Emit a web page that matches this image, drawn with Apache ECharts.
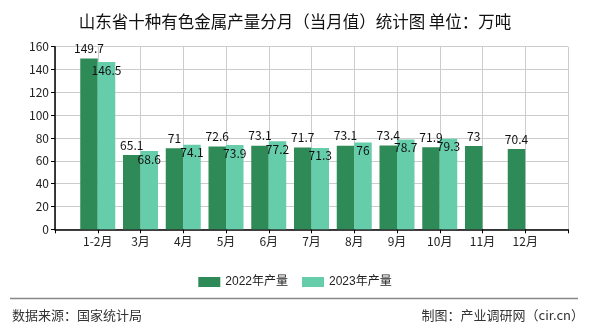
<!DOCTYPE html>
<html>
<head>
<meta charset="utf-8">
<script src="https://cdn.jsdelivr.net/npm/echarts@6/dist/echarts.min.js"></script>
<style>
html,body{margin:0;padding:0;background:#fff;}
#main{width:590px;height:330px;}
</style>
</head>
<body>
<div id="main"></div>
<script>
const titleText = '山东省十种有色金属产量分月（当月值）统计图 单位：万吨';
const months = ['1-2月','3月','4月','5月','6月','7月','8月','9月','10月','11月','12月'];
const series2022 = [149.7, 65.1, 71, 72.6, 73.1, 71.7, 73.1, 73.4, 71.9, 73, 70.4];
const series2023 = [146.5, 68.6, 74.1, 73.9, 77.2, 71.3, 76, 78.7, 79.3];
const seriesNames = ['2022年产量', '2023年产量'];
const yTicks = {min: 0, max: 160, interval: 20};
const sourceText = '数据来源：国家统计局';
const makerText = '制图：产业调研网（cir.cn）';

const FONT = "SimSun, 'Noto Sans CJK SC', sans-serif";
const cats = [''].concat(months, ['']);
function pad(arr){
  const out = [null];
  for (let i = 0; i < months.length; i++) out.push(i < arr.length ? arr[i] : null);
  out.push(null);
  return out;
}

const chart = echarts.init(document.getElementById('main'), null, {renderer: 'canvas'});
chart.setOption({
  animation: false,
  backgroundColor: '#fff',
  textStyle: {fontFamily: FONT},
  title: {
    text: titleText, left: 'center', top: 8,
    textStyle: {fontSize: 16.5, fontWeight: 'normal', color: '#111', fontFamily: FONT}
  },
  legend: {
    data: seriesNames, left: 'center', top: 271,
    icon: 'rect', itemWidth: 22, itemHeight: 10, itemGap: 14,
    textStyle: {fontSize: 12, color: '#222', fontFamily: "Arial, 'Liberation Sans', 'Noto Sans CJK SC', sans-serif"}
  },
  grid: {left: 55, right: 22, top: 46.7, bottom: 100.7, containLabel: false},
  xAxis: {
    type: 'category', data: cats, boundaryGap: false,
    axisLine: {lineStyle: {color: '#000', width: 1.5}},
    axisTick: {show: true, length: 4, lineStyle: {color: '#000'}, interval: 0},
    axisLabel: {interval: 0, fontSize: 12, color: '#222', margin: 6, fontFamily: FONT},
    splitLine: {show: true, interval: 0, lineStyle: {color: '#cccccc'}}
  },
  yAxis: {
    type: 'value', min: yTicks.min, max: yTicks.max, interval: yTicks.interval,
    axisLine: {show: true, lineStyle: {color: '#000', width: 1.5}},
    axisTick: {show: true, length: 4, lineStyle: {color: '#000'}},
    axisLabel: {fontSize: 12, color: '#222', margin: 6, fontFamily: FONT},
    splitLine: {show: true, lineStyle: {color: '#cccccc'}}
  },
  series: [
    {
      name: seriesNames[0], type: 'bar', data: pad(series2022),
      barWidth: 17.5, barGap: '0%',
      itemStyle: {color: '#2E8B57'},
      label: {show: true, position: 'top', distance: 4, fontSize: 12, color: '#111', fontFamily: FONT}
    },
    {
      name: seriesNames[1], type: 'bar', data: pad(series2023),
      barWidth: 17.5, barGap: '0%',
      itemStyle: {color: '#66CDAA'},
      label: {show: true, position: 'insideTop', distance: 2, fontSize: 12, color: '#111', fontFamily: FONT}
    }
  ],
  graphic: [
    {type: 'line', shape: {x1: 10, y1: 298.5, x2: 578, y2: 298.5}, style: {stroke: '#888', lineWidth: 1.5}},
    {type: 'text', left: 12, top: 309, style: {text: sourceText, fontSize: 13, fill: '#333', fontFamily: FONT}},
    {type: 'text', right: 6, top: 309, style: {text: makerText, fontSize: 13, fill: '#333', fontFamily: FONT}}
  ]
});
</script>
</body>
</html>
